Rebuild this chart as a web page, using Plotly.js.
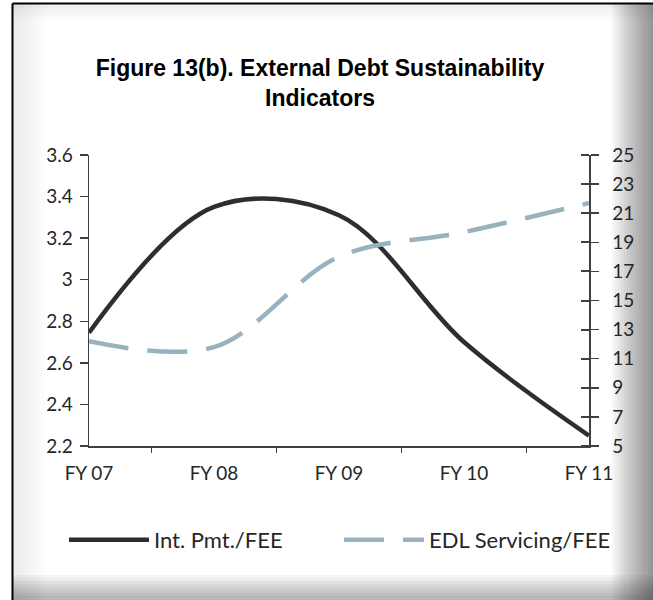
<!DOCTYPE html>
<html>
<head>
<meta charset="utf-8">
<script src="https://cdn.plot.ly/plotly-3.0.1.min.js"></script>
<style>html,body{margin:0;padding:0;background:#fff;}#chart{width:653px;height:600px;}</style>
</head>
<body>
<div id="chart"></div>
<script>
const categories = ["FY 07", "FY 08", "FY 09", "FY 10", "FY 11"];
const intPmtFee = [2.745, 3.35, 3.31, 2.70, 2.25];
const edlServicingFee = [12.2, 11.8, 18.0, 19.7, 21.7];
const leftTicks = [2.2, 2.4, 2.6, 2.8, 3, 3.2, 3.4, 3.6];
const rightTicks = [5, 7, 9, 11, 13, 15, 17, 19, 21, 23, 25];

const W = 653, H = 600;
const L = 89, R = 589, T = 155, B = 446;
const px = v => (v - L) / (R - L);
const py = v => (B - v) / (B - T);

const tickFont = {family: "Lato, 'Open Sans', sans-serif", size: 19, color: "#262626"};

const shapes = [];
function strip(x0, y0, x1, y1, color, op) {
  shapes.push({type: "rect", xref: "paper", yref: "paper", x0: px(x0), x1: px(x1), y0: py(y1), y1: py(y0),
    fillcolor: color, opacity: op, line: {width: 0}, layer: "below"});
}
for (let i = 0; i < 14; i++) strip(612 + i * 3, 4, 653, 600, "#000", 0.035);
for (let i = 0; i < 8; i++) strip(12, 575 + i * 3, 653, 600, "#000", 0.04);
for (let i = 0; i < 5; i++) strip(12, 4, 653, 20 - i * 3, "#000", 0.012);
for (let i = 0; i < 6; i++) strip(12, 4, 45 - i * 5, 600, "#000", 0.01);
shapes.push({type: "line", xref: "paper", yref: "paper", x0: px(12.5), x1: px(12.5), y0: py(3.5), y1: py(600), line: {color: "#000", width: 2}});
shapes.push({type: "line", xref: "paper", yref: "paper", x0: px(12.5), x1: px(653), y0: py(3.5), y1: py(3.5), line: {color: "#000", width: 2}});

const traces = [
  {x: categories, y: intPmtFee, name: "Int. Pmt./FEE", type: "scatter", mode: "lines",
   line: {color: "#2e2e2e", width: 4.5, shape: "spline", smoothing: 1}, yaxis: "y"},
  {x: categories, y: edlServicingFee, name: "EDL Servicing/FEE", type: "scatter", mode: "lines",
   line: {color: "#98b2bf", width: 4.5, shape: "spline", smoothing: 1, dash: "40px,19px"}, yaxis: "y2"},
  {x: categories, y: edlServicingFee, yaxis: "y3", type: "scatter", mode: "lines",
   line: {width: 0}, showlegend: false, hoverinfo: "skip", opacity: 0}
];

const axCol = "#404040";
const layout = {
  width: W, height: H,
  margin: {l: L, r: W - R, t: T, b: H - B, pad: 0},
  paper_bgcolor: "#fff", plot_bgcolor: "rgba(0,0,0,0)",
  showlegend: true,
  title: {text: "Figure 13(b). External Debt Sustainability<br>Indicators",
    font: {family: "'Liberation Sans', Arial, sans-serif", size: 23, color: "#000", weight: "bold"},
    xref: "paper", x: px(320), xanchor: "center", yref: "container", y: 1 - 76 / H, yanchor: "top"},
  xaxis: {type: "category", range: [0, 4], tickson: "boundaries", ticks: "outside", ticklen: 5,
    tickcolor: axCol, tickwidth: 1.5, showline: true, linecolor: axCol, linewidth: 1.5,
    showgrid: false, zeroline: false, tickfont: tickFont, ticklabelstandoff: 10},
  yaxis: {range: [2.2, 3.6], tickvals: leftTicks, ticktext: leftTicks.map(String), ticks: "outside", ticklen: 8,
    tickcolor: axCol, tickwidth: 1.5, showline: true, linecolor: axCol, linewidth: 1.5,
    showgrid: false, zeroline: false, tickfont: tickFont, ticklabelstandoff: 3},
  yaxis2: {range: [5, 25], tickvals: rightTicks, ticktext: rightTicks.map(String), overlaying: "y", side: "right",
    ticks: "outside", ticklen: 8, tickcolor: axCol, tickwidth: 1.5, showline: true, linecolor: axCol,
    linewidth: 1.5, showgrid: false, zeroline: false, tickfont: tickFont, ticklabelstandoff: 10},
  yaxis3: {range: [5, 25], tickvals: rightTicks, ticktext: rightTicks.map(() => ""), overlaying: "y",
    side: "left", anchor: "free", position: 1, ticks: "outside", ticklen: 8,
    tickcolor: axCol, tickwidth: 2, showline: false, showgrid: false, zeroline: false, showticklabels: false},
  legend: {orientation: "h", x: px(64), xanchor: "left", y: py(540), yanchor: "middle",
    font: {family: "Lato, 'Open Sans', sans-serif", size: 22, color: "#262626"},
    itemwidth: 80, bgcolor: "rgba(0,0,0,0)", traceorder: "normal", entrywidth: 180},
  shapes: shapes
};

Plotly.newPlot("chart", traces, layout, {displayModeBar: false, staticPlot: true});
</script>
</body>
</html>
